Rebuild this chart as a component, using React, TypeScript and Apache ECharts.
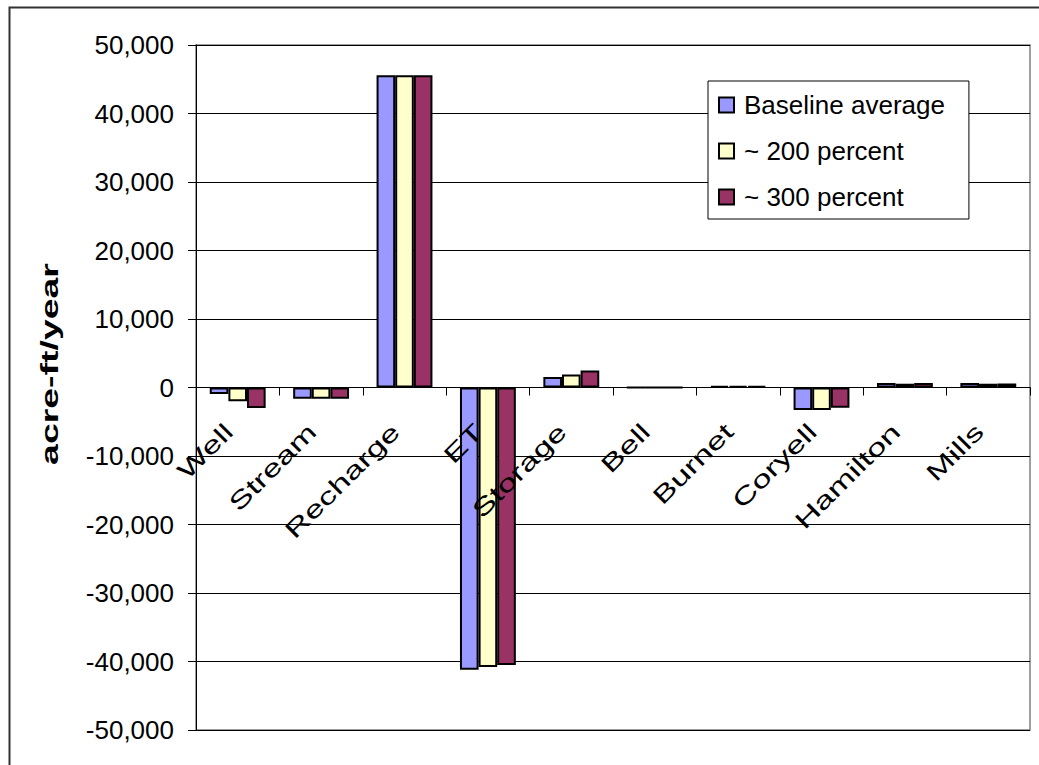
import React, { useEffect, useRef } from "react";
import * as echarts from "echarts";

const categories = ["Well", "Stream", "Recharge", "ET", "Storage", "Bell", "Burnet", "Coryell", "Hamilton", "Mills"];
const seriesNames = ["Baseline average", "~ 200 percent", "~ 300 percent"];
const baseline = [-950, -1650, 45600, -41200, 1550, 0, 200, -3300, 650, 650];
const pct200 = [-2000, -1650, 45600, -40800, 1900, 0, 200, -3300, 550, 550];
const pct300 = [-3000, -1650, 45600, -40500, 2500, 0, 200, -2950, 650, 600];
const colors = ["#9999FF", "#FFFFCC", "#993366"];
const yTicks = { min: -50000, max: 50000, interval: 10000 };
const yTitle = "acre-ft/year";

const FONT = "Liberation Sans, Arial, sans-serif";
const GRID_TOP = 45;
const GRID_BOTTOM = 35;
const HEIGHT = 765;

export default function App() {
  const ref = useRef<HTMLDivElement>(null);
  useEffect(() => {
    if (!ref.current) return;
    const chart = echarts.init(ref.current, null, { renderer: "svg" });
    const data = [baseline, pct200, pct300];
    const gridH = HEIGHT - GRID_TOP - GRID_BOTTOM;
    const zeroShift = (gridH * yTicks.min) / (yTicks.max - yTicks.min);
    chart.setOption({
      animation: false,
      backgroundColor: "#ffffff",
      textStyle: { fontFamily: FONT, color: "#000" },
      grid: {
        left: 196,
        right: 9,
        top: GRID_TOP,
        bottom: GRID_BOTTOM,
        containLabel: false,
        outerBoundsMode: "none",
        show: true,
        borderColor: "#808080",
        borderWidth: 1.5,
        backgroundColor: "transparent",
      },
      legend: {
        left: 708,
        top: 81,
        orient: "vertical",
        icon: "rect",
        itemWidth: 15,
        itemHeight: 15,
        itemGap: 20,
        padding: [11, 24, 9, 10],
        borderColor: "#000",
        borderWidth: 1,
        backgroundColor: "#fff",
        textStyle: { fontFamily: FONT, fontSize: 26, color: "#000", padding: [0, 0, 0, 5] },
        data: seriesNames,
      },
      xAxis: {
        type: "category",
        data: categories,
        position: "bottom",
        offset: zeroShift,
        axisLine: { show: true, onZero: false, lineStyle: { color: "#000", width: 1 } },
        axisTick: { show: true, length: 8, lineStyle: { color: "#000" } },
        axisLabel: { show: false },
        splitLine: { show: false },
      },
      yAxis: {
        type: "value",
        min: yTicks.min,
        max: yTicks.max,
        interval: yTicks.interval,
        axisLine: { show: true, lineStyle: { color: "#000", width: 1 } },
        axisTick: { show: true, length: 8, lineStyle: { color: "#000" } },
        axisLabel: {
          fontSize: 26,
          fontFamily: FONT,
          color: "#000",
          margin: 22,
          formatter: (v: number) => v.toLocaleString("en-US"),
        },
        splitLine: { show: true, lineStyle: { color: "#000", width: 1 } },
      },
      series: seriesNames.map((name, i) => ({
        name,
        type: "bar",
        data: data[i],
        barGap: "0%",
        barCategoryGap: "33%",
        itemStyle: { color: colors[i], borderColor: "#000", borderWidth: 2 },
      })),
    });

    const zeroY = chart.convertToPixel({ yAxisIndex: 0 }, 0) as number;
    const catLabels = categories.map((c) => {
      const cx = chart.convertToPixel({ xAxisIndex: 0 }, c) as number;
      return {
        type: "text",
        x: cx - 9,
        y: zeroY + 40,
        rotation: Math.PI / 4,
        scaleX: 1.45,
        z: 100,
        silent: true,
        style: {
          text: c,
          font: `24px ${FONT}`,
          fill: "#000",
          align: "right",
          verticalAlign: "middle",
        },
      };
    });

    chart.setOption({
      graphic: {
        elements: [
          {
            type: "rect",
            left: 7,
            top: 5,
            shape: { width: 1060, height: 790 },
            style: { fill: "none", stroke: "#333", lineWidth: 2 },
            silent: true,
            z: -10,
          },
          {
            type: "text",
            x: 50,
            y: 364,
            rotation: Math.PI / 2,
            scaleX: 1.56,
            style: {
              text: yTitle,
              font: `bold 24px ${FONT}`,
              fill: "#000",
              align: "center",
              verticalAlign: "middle",
            },
          },
          ...catLabels,
        ],
      },
    });
    return () => chart.dispose();
  }, []);
  return <div ref={ref} style={{ position: "fixed", left: 0, top: 0, width: 1039, height: 765 }} />;
}
